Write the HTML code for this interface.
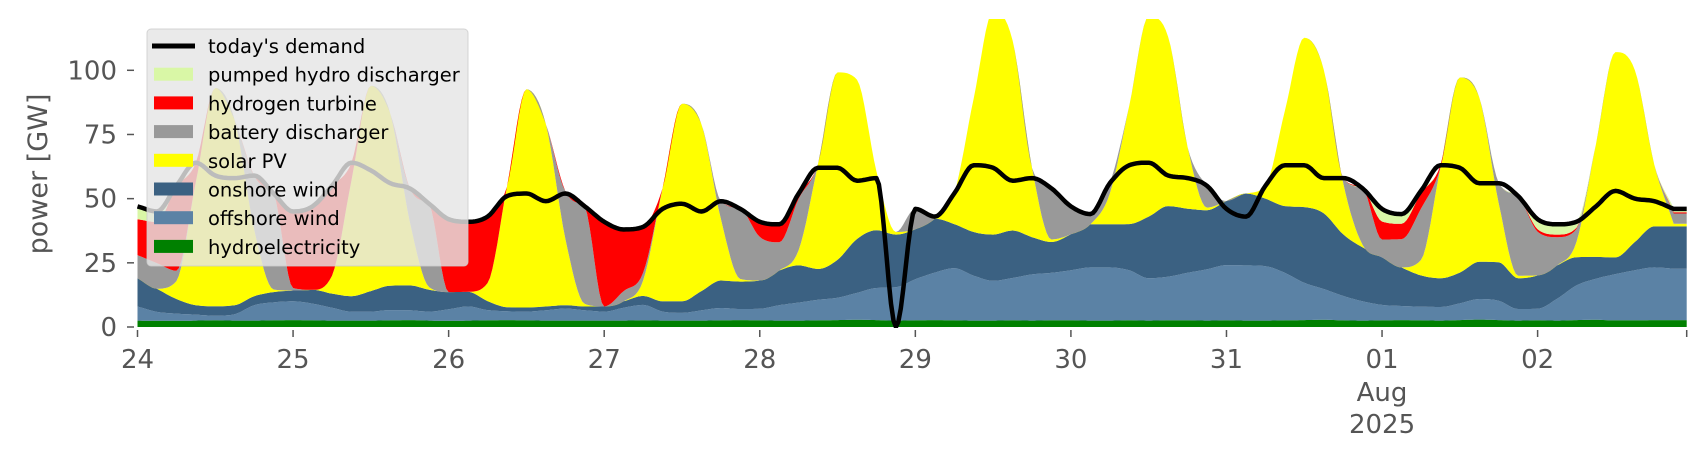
<!DOCTYPE html>
<html><head><meta charset="utf-8"><style>
html,body{margin:0;padding:0;background:#fff;}
svg{display:block;font-family:"DejaVu Sans","Liberation Sans",sans-serif;}
</style></head><body>
<svg id="chart" width="1706" height="460" viewBox="0 0 1706 460" xmlns="http://www.w3.org/2000/svg">
<defs><clipPath id="plotclip"><rect x="137" y="19" width="1550" height="309"/></clipPath></defs>
<g id="stack" clip-path="url(#plotclip)"></g>
<g id="axes"></g>
<text x="0" y="0" transform="translate(47,174) rotate(-90)" text-anchor="middle" font-size="27" fill="#555">power [GW]</text>
<g id="legend"></g>
</svg>
<script>
const demand = [47,45,55,64,59,58,59,52, 45,47,55,64,61,56,54,48, 42,41,43,51,52,49,52,47, 41,38,39,46,48,45,49,46, 41,40,52,62,62,57,58,0, 46,43,52,63,62,57,58,54, 47,44,56,63,64,59,58,55, 46,43,55,63,63,58,58,54, 46,44,53,63,62,56,56,51, 42,40,41,47,53,50,49,46];
const hydro = [2.5,2.4,2.4,2.5,2.6,2.5,2.5,2.6, 2.7,2.6,2.5,2.5,2.5,2.6,2.7,2.5, 2.4,2.5,2.6,2.7,2.6,2.5,2.5,2.5, 2.5,2.5,2.6,2.5,2.5,2.5,2.6,2.7, 2.6,2.5,2.5,2.6,2.7,2.8,2.7,2.5, 2.6,2.7,2.6,2.5,2.5,2.6,2.5,2.6, 2.6,2.5,2.5,2.6,2.5,2.6,2.6,2.5, 2.6,2.5,2.5,2.6,2.7,2.8,2.6,2.5, 2.6,2.7,2.6,2.5,2.7,2.9,2.7,2.5, 2.6,2.5,2.7,2.8,2.6,2.6,2.7,2.7];
const offshore = [5.5,3.5,2.8,2.3,1.8,2.5,6,7, 7.3,6.5,5,3.5,3.5,4,3.8,3.5, 4.5,5.5,4,3.4,3.4,4,4.7,4, 3.5,5,6,3.5,3,4,4.8,4.3, 4.5,6,7,8,8.7,10.5,12.5,13, 16,18.5,20.3,17.5,15.5,16.5,18,18.5, 19.5,20.7,20.7,19.5,16.5,17,18.5,20, 21.5,21.5,21.2,18.5,14.5,12,9.5,7.5, 6,5.5,5.3,5.3,6.5,8,7.5,4.5, 4.5,8.5,13.5,16,18,19.5,20.5,20];
const onshore = [11,9,5.7,3.7,3.7,3.5,3.5,4, 4.2,5.4,5.5,6,8,9.5,9.7,8.5, 6.7,5.7,3.5,1.6,1.6,1.5,1.3,1.5, 2,2.5,3.5,4,4.5,7.5,10.7,10.7, 11,13.5,14.5,12,14.8,21,22.5,20.5, 19.5,21,17.2,17,18,18.5,14.5,12, 14,16.8,16.8,18,24,27.5,25,23, 25,28,26.3,26,29.5,29.5,24,21, 18.5,15,12.2,11.2,12,14.5,15,12, 13,13,11,8.5,6.5,11,16,16.5];
const solar = [0,0,7,48,85,72,26,1, 0,0,7,45,80,67,25,1, 0,0,7,47,85,71,26,1, 0,0,6,44,77,65,24,1, 0,0,6,41,73,62,23,1, 0,0,12,52,87,74,27,1, 0,0,12,46,78,66,24,1, 0,0,5,37,66,56,20,1, 0,0,6,43,76,64,23,1, 0,0,6,44,80,67,24,1];
const battery = [9,10,4,0,0,0,21,37.5, 1,0,0,0,0,0,13,32.5, 0,0,0,0,0,0,18.5,38, 0,4,3,0,0,0,7,27.5, 17,11,20,0,0,0,0,0, 8,1,0,0,0,0,0,20, 11,4,4,0,0,0,0,8.5, 0,0,0,0,0,0,2,22, 7,11,20,0,0,0,8,31, 17,11,5,0,0,0,0,4];
const hydrogen = [14,16,33,7.5,0,0,0,0, 30,32.6,35,7,0,0,0,0, 28.3,27.3,26,0,0,0,0,0, 33,24,18,0,0,0,0,0, 6,7,2,0,0,0,0,0, 0,0,0,0,0,0,0,0, 0,0,0,0,0,0,0,0, 0,0,0,0,0,0,0,0, 7,6,6,1,0,0,0,0, 1,1,0.5,0,0,0,0,0.5];
const pumped = [5,4,0,0,0,0,0,0, 0,0,0,0,0,0,0,0, 0,0,0,0,0,0,0,0, 0,0,0,0,0,0,0,0, 0,0,0,0,0,0,0,0, 0,0,0,0,0,0,0,0, 0,0,0,0,0,0,0,0, 0,0,0,0,0,0,0,0, 5,4,1,0,0,0,0,0, 4,4,2.5,0,0,0,0,1.5];
const dayLabels = ['24','25','26','27','28','29','30','31','01','02'];
const yTicks = [0,25,50,75,100];

const NS = 'http://www.w3.org/2000/svg';
const X0 = 137.5, PXH = 6.482, Y0 = 327, PXG = 2.567, HEND = 239;
const xs = h => X0 + h * PXH;
const ys = v => Y0 - v * PXG;
const hourOf = i => i * 3;

// monotone cubic (Fritsch-Carlson) dense sampling for smooth rendering
function smoothPts(vals) {
  const n = vals.length, hs = vals.map((_, i) => hourOf(i));
  const d = [], m = new Array(n).fill(0);
  for (let i = 0; i < n - 1; i++) d.push((vals[i+1] - vals[i]) / (hs[i+1] - hs[i]));
  m[0] = d[0]; m[n-1] = d[n-2];
  for (let i = 1; i < n - 1; i++) m[i] = (d[i-1] * d[i] <= 0) ? 0 : (d[i-1] + d[i]) / 2;
  for (let i = 0; i < n - 1; i++) {
    if (d[i] === 0) { m[i] = 0; m[i+1] = 0; continue; }
    const a = m[i] / d[i], b = m[i+1] / d[i], s = a*a + b*b;
    if (s > 9) { const t = 3 / Math.sqrt(s); m[i] = t*a*d[i]; m[i+1] = t*b*d[i]; }
  }
  const out = [];
  const SUB = 8;
  for (let i = 0; i < n - 1; i++) {
    const h = hs[i+1] - hs[i];
    for (let k = 0; k < SUB; k++) {
      const t = k / SUB, t2 = t*t, t3 = t2*t;
      const v = (2*t3 - 3*t2 + 1)*vals[i] + (t3 - 2*t2 + t)*h*m[i] + (-2*t3 + 3*t2)*vals[i+1] + (t3 - t2)*h*m[i+1];
      out.push([hs[i] + t*h, v]);
    }
  }
  out.push([hs[n-1], vals[n-1]]);
  out.push([HEND, vals[n-1]]);
  return out;
}

const seriesList = [
  {name:'hydroelectricity', vals:hydro, color:'#008000'},
  {name:'offshore wind', vals:offshore, color:'#5b82a5'},
  {name:'onshore wind', vals:onshore, color:'#3b6182'},
  {name:'solar PV', vals:solar, color:'#ffff00'},
  {name:'battery discharger', vals:battery, color:'#999999'},
  {name:'hydrogen turbine', vals:hydrogen, color:'#ff0000'},
  {name:'pumped hydro discharger', vals:pumped, color:'#d9f7a6'}
];

const stackG = document.getElementById('stack');
let base = demand.map(() => 0);
let basePts = smoothPts(base);
seriesList.forEach(s => {
  const top = base.map((b, i) => b + s.vals[i]);
  const topPts = smoothPts(top);
  let d = '';
  topPts.forEach((p, i) => { d += (i ? 'L' : 'M') + xs(p[0]).toFixed(1) + ',' + ys(p[1]).toFixed(1); });
  for (let i = basePts.length - 1; i >= 0; i--) d += 'L' + xs(basePts[i][0]).toFixed(1) + ',' + ys(basePts[i][1]).toFixed(1);
  d += 'Z';
  const p = document.createElementNS(NS, 'path');
  p.setAttribute('d', d);
  p.setAttribute('fill', s.color);
  
  
  stackG.appendChild(p);
  base = top;
  basePts = topPts;
});
// demand line
{
  let d = '';
  smoothPts(demand).forEach((p, i) => { d += (i ? 'L' : 'M') + xs(p[0]).toFixed(1) + ',' + ys(p[1]).toFixed(1); });
  const p = document.createElementNS(NS, 'path');
  p.setAttribute('d', d);
  p.setAttribute('fill', 'none');
  p.setAttribute('stroke', '#000');
  p.setAttribute('stroke-width', '4.5');
  p.setAttribute('stroke-linejoin', 'round');
  
  
  stackG.appendChild(p);
}
// axes
const axG = document.getElementById('axes');
yTicks.forEach(v => {
  const l = document.createElementNS(NS, 'line');
  l.setAttribute('x1', 127); l.setAttribute('x2', 134);
  l.setAttribute('y1', ys(v)); l.setAttribute('y2', ys(v));
  l.setAttribute('stroke', '#555'); l.setAttribute('stroke-width', '1.5');
  
  
  axG.appendChild(l);
  const t = document.createElementNS(NS, 'text');
  t.setAttribute('x', 117); t.setAttribute('y', ys(v) + 9);
  t.setAttribute('text-anchor', 'end'); t.setAttribute('font-size', '26'); t.setAttribute('fill', '#555');
  t.textContent = String(v);
  
  
  axG.appendChild(t);
});
const tickHours = dayLabels.map((_, i) => i * 24).concat([HEND]);
tickHours.forEach(h => {
  const l = document.createElementNS(NS, 'line');
  l.setAttribute('x1', xs(h)); l.setAttribute('x2', xs(h));
  l.setAttribute('y1', 330); l.setAttribute('y2', 337);
  l.setAttribute('stroke', '#555'); l.setAttribute('stroke-width', '1.5');
  
  
  axG.appendChild(l);
});
dayLabels.forEach((lab, i) => {
  const t = document.createElementNS(NS, 'text');
  t.setAttribute('x', xs(i * 24)); t.setAttribute('y', 368);
  t.setAttribute('text-anchor', 'middle'); t.setAttribute('font-size', '26'); t.setAttribute('fill', '#555');
  t.textContent = lab;
  
  
  axG.appendChild(t);
});
[['Aug', 401], ['2025', 433]].forEach(([txt, y]) => {
  const t = document.createElementNS(NS, 'text');
  t.setAttribute('x', xs(8 * 24)); t.setAttribute('y', y);
  t.setAttribute('text-anchor', 'middle'); t.setAttribute('font-size', '26'); t.setAttribute('fill', '#555');
  t.textContent = txt;
  
  
  axG.appendChild(t);
});
// legend
const lg = document.getElementById('legend');
const box = document.createElementNS(NS, 'rect');
box.setAttribute('x', 147); box.setAttribute('y', 29); box.setAttribute('width', 321); box.setAttribute('height', 237);
box.setAttribute('rx', 4); box.setAttribute('fill', 'rgba(229,229,229,0.82)'); box.setAttribute('stroke', 'rgba(204,204,204,0.8)');


lg.appendChild(box);
const legendEntries = [{name:"today's demand", line:true}].concat(seriesList.slice().reverse());
legendEntries.forEach((e, i) => {
  const cy = 46 + i * 28.7;
  if (e.line) {
    const l = document.createElementNS(NS, 'line');
    l.setAttribute('x1', 152); l.setAttribute('x2', 195); l.setAttribute('y1', cy); l.setAttribute('y2', cy);
    l.setAttribute('stroke', '#000'); l.setAttribute('stroke-width', '5');
    
    
    lg.appendChild(l);
  } else {
    const r = document.createElementNS(NS, 'rect');
    r.setAttribute('x', 154); r.setAttribute('y', cy - 7); r.setAttribute('width', 39); r.setAttribute('height', 13);
    r.setAttribute('fill', e.color);
    
    
    lg.appendChild(r);
  }
  const t = document.createElementNS(NS, 'text');
  t.setAttribute('x', 208); t.setAttribute('y', cy + 7);
  t.setAttribute('font-size', '19.5'); t.setAttribute('fill', '#000');
  t.textContent = e.name;
  
  
  lg.appendChild(t);
});
</script>
</body></html>
